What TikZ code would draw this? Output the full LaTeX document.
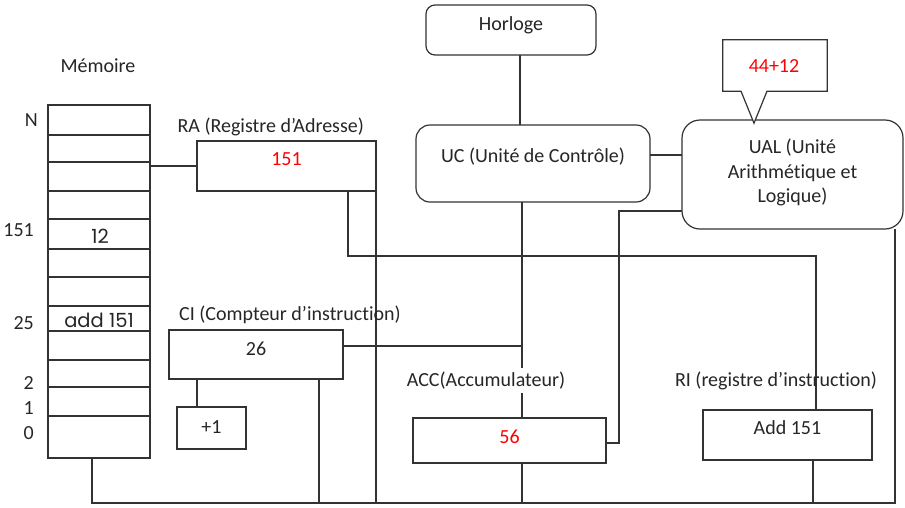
\documentclass[tikz,border=0pt]{standalone}
\usepackage{fontspec}
\setmainfont{Carlito}[Ligatures=NoCommon]
\newfontfamily\gothic{Poppins}
\begin{document}
\begin{tikzpicture}[x=1pt,y=-1pt,
  wire/.style={draw=black!80, line width=1.2pt},
  reg/.style={draw=black!80, line width=1.2pt, rectangle, fill=white,
              inner sep=0pt, outer sep=0pt},
  unit/.style={reg, rounded corners=#1},
  txt/.style={font=\fontsize{20}{24.6}\selectfont, text=black!85, inner sep=0pt},
  val/.style={txt, text=red},
  cell/.style={txt, font=\gothic\fontsize{19.5}{22}\selectfont},
  lbl/.style={txt}]
\useasboundingbox (0,0) rectangle (905,507);

% memory column with its address labels
\node[reg, minimum width=102, minimum height=353] (mem) at (99,281.5) {};
\foreach \r in {135,162,191,219,249,277,306,331,360,387,416}
  \draw[wire] (mem.west |- 0,\r) -- (mem.east |- 0,\r);
\node[lbl] (memlbl) at (98,66) {Mémoire};
\node[lbl, anchor=east] (aN) at (38,120) {N};
\node[lbl, anchor=east] (a151) at (34,230) {151};
\node[lbl, anchor=east] (a25) at (34,323) {25};
\node[lbl, anchor=east] (a2) at (34,383) {2};
\node[lbl, anchor=east] (a1) at (34,408) {1};
\node[lbl, anchor=east] (a0) at (34,433) {0};
\node[cell] (c151) at (100,236) {12};
\node[cell] (c25) at (99,320) {add 151};

% registers
\node[reg, minimum width=179, minimum height=50,
      label={[val, yshift=7pt]center:151}] (ra) at (286.5,166) {};
\node[reg, minimum width=174, minimum height=49,
      label={[txt, yshift=5.5pt]center:26}] (ci) at (256,354.5) {};
\node[reg, minimum width=69, minimum height=42,
      label={[txt, yshift=1pt]center:+1}] (plus) at (211.5,428) {};
\node[reg, minimum width=193, minimum height=45,
      label={[val, yshift=3.5pt]center:56}] (acc) at (509.5,440.5) {};
\node[reg, minimum width=169, minimum height=50,
      label={[txt, yshift=7.5pt]center:Add 151}] (ri) at (787.5,435) {};

% control and arithmetic units
\node[unit=9pt, minimum width=170, minimum height=50,
      label={[txt, yshift=5pt]center:Horloge}] (horloge) at (511,30) {};
\node[unit=14pt, minimum width=234, minimum height=77,
      label={[txt, yshift=7pt]center:UC (Unité de Contrôle)}] (uc) at (533,163.5) {};
\node[unit=18pt, minimum width=221, minimum height=109] (ual) at (792.5,174.5) {};
\node[txt, align=center] (ualtxt) at (792.5,172.5)
  {UAL (Unité\\Arithmétique et\\Logique)};

% speech bubble above the UAL
\node[val, minimum width=104, minimum height=51] (op) at (775,65.5) {};
\draw[wire, fill=white] (op.north west) -- (op.north east) -- (op.south east)
  -- ([xshift=-8pt]op.south) -- ([xshift=-21pt,yshift=-32pt]op.south)
  -- ([xshift=-34pt]op.south) -- (op.south west) -- cycle;
\node[val] (optxt) at (774,65.7) {44+12};

% bus and connectors
\coordinate (bl) at (92,503);
\coordinate (br) at (895,503);
\draw[wire] ([xshift=-7pt]mem.south) -- (bl) -- (br) -- (br |- ual.south);
\draw[wire] (mem.east |- ra.west) -- (ra.west);
\draw[wire] (ra.south east) -- (ra.south east |- bl);
\draw[wire] ([xshift=61.5pt]ra.south) -- ++(0,65) -| ([xshift=28.5pt]ri.north);
\draw[wire] ([xshift=-59pt]ci.south) -- ([xshift=-59pt]ci.south |- plus.north);
\draw[wire] ([xshift=63pt]ci.south) -- ([xshift=63pt]ci.south |- bl);
\draw[wire] ([yshift=8.5pt]ci.east) -- ([yshift=8.5pt]ci.east -| 522,0);
\draw[wire] ([xshift=-11pt]uc.south) -- ([xshift=12.5pt]acc.north);
\draw[wire] ([xshift=12.5pt]acc.south) -- ([xshift=12.5pt]acc.south |- bl);
\draw[wire] ([xshift=25.5pt]ri.south) -- ([xshift=25.5pt]ri.south |- bl);
\draw[wire] ([yshift=-2.5pt]acc.east) -- ++(13,0) |- ([yshift=-36.5pt]ual.west);
\draw[wire] ([yshift=8.5pt]uc.east) -- ([yshift=8.5pt]uc.east -| ual.west);
\draw[wire] ([xshift=9pt]horloge.south) -- ([xshift=9pt]horloge.south |- uc.north);

% register captions
\node[lbl] (ralbl) at (270.7,126.7) {RA (Registre d’Adresse)};
\node[lbl] (cilbl) at (290,315) {CI (Compteur d’instruction)};
\node[lbl, fill=white, inner ysep=4pt] (acclbl) at (486,380.7) {ACC(Accumulateur)};
\node[lbl] (rilbl) at (776,380.7) {RI (registre d’instruction)};
\end{tikzpicture}
\end{document}
